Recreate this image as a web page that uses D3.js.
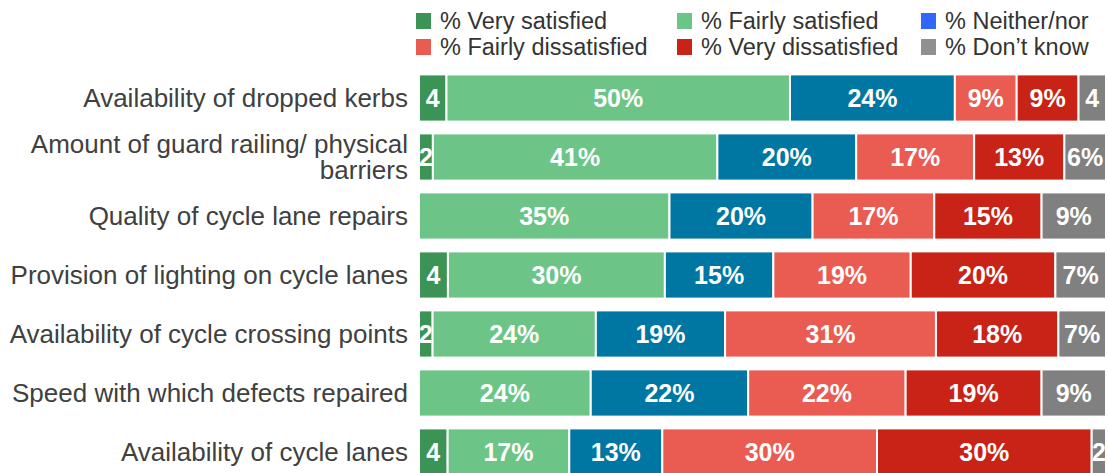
<!DOCTYPE html>
<html>
<head>
<meta charset="utf-8">
<script src="https://cdn.jsdelivr.net/npm/d3@7"></script>
<style>
  body { margin: 0; background: #fff; }
  svg text { font-family: "Liberation Sans", Arial, sans-serif; }
</style>
</head>
<body>
<svg id="chart" width="1108" height="473"></svg>
<script>
// categories, top to bottom
const categories = [
  ['Availability of dropped kerbs'],
  ['Amount of guard railing/ physical', 'barriers'],
  ['Quality of cycle lane repairs'],
  ['Provision of lighting on cycle lanes'],
  ['Availability of cycle crossing points'],
  ['Speed with which defects repaired'],
  ['Availability of cycle lanes']
];

const seriesNames = ['% Very satisfied', '% Fairly satisfied', '% Neither/nor',
                     '% Fairly dissatisfied', '% Very dissatisfied', '% Don\u2019t know'];

// values per series (one entry per category)
const verySatisfied      = [4, 2, 0, 4, 2, 0, 4];
const fairlySatisfied    = [50, 41, 35, 30, 24, 24, 17];
const neitherNor         = [24, 20, 20, 15, 19, 22, 13];
const fairlyDissatisfied = [9, 17, 17, 19, 31, 22, 30];
const veryDissatisfied   = [9, 13, 15, 20, 18, 19, 30];
const dontKnow           = [4, 6, 9, 7, 7, 9, 2];

const barColours    = ['#3b9455', '#6cc587', '#0077a3', '#ea5b51', '#c92217', '#808080'];
const legendColours = ['#3b9455', '#6cc587', '#3366ff', '#ea5b51', '#c92217', '#909090'];

const svg = d3.select('#chart');
const keys = d3.range(seriesNames.length);
const allSeries = [verySatisfied, fairlySatisfied, neitherNor, fairlyDissatisfied, veryDissatisfied, dontKnow];

const rows = categories.map((c, i) => {
  const r = { idx: i };
  keys.forEach(k => { r[k] = allSeries[k][i]; });
  return r;
});

// bars fill the full width, so each row is normalised
const stacked = d3.stack().keys(keys).offset(d3.stackOffsetExpand)(rows);

const x = d3.scaleLinear().domain([0, 1]).range([419, 1106]);
const y = d3.scaleBand()
  .domain(rows.map(d => d.idx))
  .range([68.5, 481.5])
  .paddingInner(0.2)
  .paddingOuter(0.1);

const layers = svg.append('g').selectAll('g')
  .data(stacked)
  .enter().append('g')
  .attr('fill', d => barColours[d.key]);

layers.selectAll('rect')
  .data(d => d.filter(s => s.data[d.key] > 0).map(s => ({ s: s, key: d.key })))
  .enter().append('rect')
  .attr('x', d => x(d.s[0]))
  .attr('y', d => y(d.s.data.idx))
  .attr('width', d => x(d.s[1]) - x(d.s[0]))
  .attr('height', y.bandwidth())
  .attr('stroke', '#fff')
  .attr('stroke-width', 2);

layers.selectAll('text')
  .data(d => d.filter(s => s.data[d.key] > 0).map(s => ({ s: s, key: d.key })))
  .enter().append('text')
  .attr('x', d => (x(d.s[0]) + x(d.s[1])) / 2)
  .attr('y', d => y(d.s.data.idx) + y.bandwidth() / 2)
  .attr('dy', '0.36em')
  .attr('text-anchor', 'middle')
  .attr('fill', '#fff')
  .attr('font-weight', 'bold')
  .attr('font-size', '25px')
  .text(d => {
    const v = d.s.data[d.key];
    return v < 5 ? v : v + '%';
  });

// category labels
const labels = svg.append('g').selectAll('text')
  .data(categories)
  .enter().append('text')
  .attr('x', 408)
  .attr('text-anchor', 'end')
  .attr('fill', '#404040')
  .attr('font-size', '26px');

labels.each(function(lines, i) {
  const cy = y(i) + y.bandwidth() / 2;
  const lh = 26;
  const t = d3.select(this);
  lines.forEach((line, j) => {
    t.append('tspan')
      .attr('x', 408)
      .attr('y', cy + (j - (lines.length - 1) / 2) * lh)
      .attr('dy', '0.36em')
      .text(line);
  });
});

// legend, 3 columns x 2 rows
const legendX = [416, 677, 921];
const legendY = [21, 47];
const legend = svg.append('g').selectAll('g')
  .data(keys)
  .enter().append('g')
  .attr('transform', k => `translate(${legendX[k % 3]}, ${legendY[Math.floor(k / 3)]})`);

legend.append('rect')
  .attr('x', 0)
  .attr('y', -8)
  .attr('width', 15)
  .attr('height', 16)
  .attr('fill', k => legendColours[k]);

legend.append('text')
  .attr('x', 24)
  .attr('dy', '0.36em')
  .attr('fill', '#333')
  .attr('font-size', '23.5px')
  .text(k => seriesNames[k]);
</script>
</body>
</html>
